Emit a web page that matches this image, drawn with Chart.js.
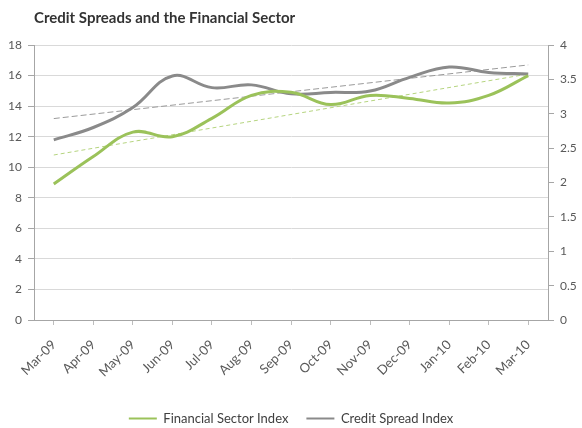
<!DOCTYPE html>
<html>
<head>
<meta charset="utf-8">
<script src="https://cdn.jsdelivr.net/npm/chart.js@4"></script>
<style>
  html, body { margin: 0; padding: 0; background: #fff; }
  #wrap { width: 582px; height: 428px; }
</style>
</head>
<body>
<div id="wrap"><canvas id="spreadChart" width="582" height="428"></canvas></div>
<script>
const months = ["Mar-09", "Apr-09", "May-09", "Jun-09", "Jul-09", "Aug-09", "Sep-09",
  "Oct-09", "Nov-09", "Dec-09", "Jan-10", "Feb-10", "Mar-10"];

// left axis (0-18)
const financialIndex = [8.9, 10.7, 12.3, 12.0, 13.2, 14.7, 14.9, 14.1, 14.7, 14.5, 14.2, 14.7, 16.0];
// right axis (0-4)
const creditSpread = [2.62, 2.80, 3.09, 3.55, 3.38, 3.42, 3.29, 3.31, 3.33, 3.53, 3.68, 3.60, 3.58];

// trendline end points
const financialTrend = [10.8, 16.1];
const creditTrend = [2.93, 3.71];

const leftTicks = [0, 2, 4, 6, 8, 10, 12, 14, 16, 18];
const rightTicks = [0, 0.5, 1, 1.5, 2, 2.5, 3, 3.5, 4];

const green = "#9bc25a";
const grey = "#8a8a8a";
const tickFont = { family: "Lato", size: 12 };

const ctx = document.getElementById("spreadChart").getContext("2d");

new Chart(ctx, {
  type: "line",
  data: {
    labels: months,
    datasets: [
      {
        label: "Financial Sector Index",
        data: financialIndex,
        yAxisID: "y",
        borderColor: green,
        backgroundColor: green,
        borderWidth: 3,
        pointRadius: 0,
        tension: 0.4,
      },
      {
        label: "Credit Spread Index",
        data: creditSpread,
        yAxisID: "y1",
        borderColor: grey,
        backgroundColor: grey,
        borderWidth: 3,
        pointRadius: 0,
        tension: 0.4,
      },
      {
        label: "trend1",
        data: [{ x: months[0], y: financialTrend[0] }, { x: months[months.length - 1], y: financialTrend[1] }],
        yAxisID: "y",
        borderColor: "#b5d47f",
        borderWidth: 1,
        borderDash: [4, 3],
        pointRadius: 0,
      },
      {
        label: "trend2",
        data: [{ x: months[0], y: creditTrend[0] }, { x: months[months.length - 1], y: creditTrend[1] }],
        yAxisID: "y1",
        borderColor: "#9a9a9a",
        borderWidth: 1,
        borderDash: [6, 3],
        pointRadius: 0,
      },
    ],
  },
  options: {
    responsive: false,
    animation: false,
    layout: { padding: { top: 0, left: 0, right: 0, bottom: -7 } },
    plugins: {
      title: {
        display: true,
        text: "Credit Spreads and the Financial Sector",
        align: "start",
        fullSize: false,
        color: "#333",
        font: { family: "Lato", size: 15, weight: "bold" },
        padding: { top: 9, bottom: 18 },
      },
      legend: {
        position: "bottom",
        labels: {
          color: "#404040",
          font: { family: "Lato", size: 13 },
          boxWidth: 28,
          boxHeight: 2,
          padding: 18,
          generateLabels: (chart) =>
            Chart.defaults.plugins.legend.labels.generateLabels(chart)
              .filter((item) => !item.text.startsWith("trend"))
              .map((item) => ({ ...item, lineWidth: 0 })),
        },
      },
      tooltip: { enabled: false },
    },
    scales: {
      x: {
        offset: true,
        grid: { drawOnChartArea: false, drawTicks: true, tickLength: 5, tickColor: "#bdbdbd" },
        border: { color: "#a6a6a6" },
        ticks: { color: "#595959", font: { family: "Lato", size: 13 }, minRotation: 45, maxRotation: 45, padding: 12 },
        afterFit: (s) => { s.height = 74; },
      },
      y: {
        position: "left",
        min: 0,
        max: 18,
        afterBuildTicks: (s) => { s.ticks = leftTicks.map((v) => ({ value: v })); },
        grid: { color: "#d9d9d9", tickLength: 6, tickColor: "#a6a6a6" },
        border: { color: "#a6a6a6" },
        ticks: { color: "#595959", font: tickFont, padding: 6 },
        afterFit: (s) => { s.width = 34; },
      },
      y1: {
        position: "right",
        min: 0,
        max: 4,
        afterBuildTicks: (s) => { s.ticks = rightTicks.map((v) => ({ value: v })); },
        grid: { drawOnChartArea: false, tickLength: 6, tickColor: "#a6a6a6" },
        border: { color: "#a6a6a6" },
        ticks: { color: "#595959", font: tickFont, padding: 6, callback: (v) => String(v) },
        afterFit: (s) => { s.width = 34; },
      },
    },
  },
});
</script>
</body>
</html>
